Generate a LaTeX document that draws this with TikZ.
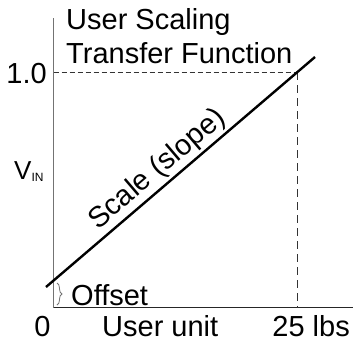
\documentclass[tikz,border=0pt]{standalone}
\usepackage{fontspec}
\setmainfont{Liberation Sans}
\usetikzlibrary{decorations.pathreplacing}
\begin{document}
\begin{tikzpicture}[x=1pt,y=-1pt,
  lbl/.style={inner sep=0pt,font=\fontsize{29}{34}\selectfont},
  axis/.style={line width=0.9pt,draw=black!55},
  guide/.style={line width=0.8pt,draw=black!80,dash pattern=on 5pt off 3pt}]
\useasboundingbox (0,0) rectangle (353,341);
% axes
\coordinate (origin) at (53.5,307.5);
\coordinate (ytop) at (53.5,18);
\coordinate (xend) at (353,307.5);
\draw[axis] (ytop) -- (origin);
\draw[axis,draw=black!85] (origin) -- (xend);
% full scale guides
\coordinate (full) at (297,72);
\coordinate (yfull) at (53.5,72);
\coordinate (xfull) at (297,307.5);
\draw[guide] (yfull) -- (full);
\draw[guide,dash pattern=on 8pt off 5pt] (full) -- (xfull);
% transfer line
\coordinate (lo) at (46,287);
\coordinate (hi) at (315,57);
\draw[line width=2.4pt] (lo) -- (hi)
  node[lbl,pos=0.455,sloped,anchor=south,inner sep=2pt] (scale) {Scale (slope)};
% offset brace
\coordinate (offtop) at (57,283);
\coordinate (offbot) at (57,305);
\draw[draw=black!55,line width=0.8pt,decorate,decoration={brace,amplitude=5pt}] (offtop) -- (offbot);
\node[lbl,anchor=base west] (offset) at (71,305) {Offset};
% labels
\node[lbl,anchor=base west] (title1) at (66,29) {User Scaling};
\node[lbl,anchor=base west] (title2) at (66,63) {Transfer Function};
\node[lbl,anchor=base east] (one) at (47,83) {1.0};
\node[inner sep=0pt,anchor=base west,font=\fontsize{26}{30}\selectfont] (vin) at (14,179)
  {V\raisebox{-2pt}{\fontsize{12}{14}\selectfont IN}};
\node[lbl,anchor=base] (zero) at (42.5,336) {0};
\node[lbl,anchor=base west] (unit) at (102,336) {User unit};
\node[lbl,anchor=base east] (lbs) at (350,336) {25 lbs};
\end{tikzpicture}
\end{document}
